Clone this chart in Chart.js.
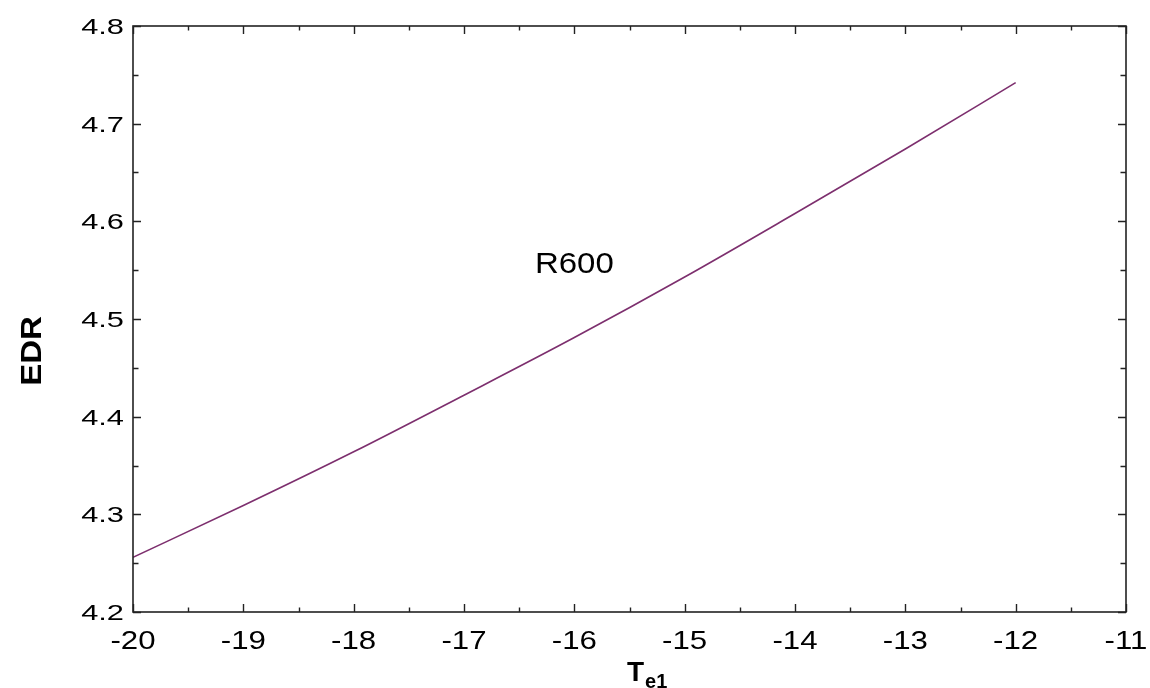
<!DOCTYPE html>
<html>
<head>
<meta charset="utf-8">
<title>EDR vs Te1 — R600</title>
<script src="https://cdn.jsdelivr.net/npm/chart.js@4.4.1/dist/chart.umd.min.js"></script>
<style>
  html, body { margin: 0; padding: 0; background: #ffffff; }
  #wrap { width: 1150px; height: 688px; }
</style>
</head>
<body>
<div id="wrap"><canvas id="c" width="1150" height="688"></canvas></div>
<script>
// Evaporator temperature T_e1 (°C) and the resulting EDR for R600
const temps = [-20, -19, -18, -17, -16, -15, -14, -13, -12];
const edr   = [4.256, 4.309, 4.364, 4.422, 4.481, 4.543, 4.608, 4.674, 4.742];

// Axis ranges and tick steps
const xRange = [-20, -11];
const yRange = [4.2, 4.8];
const xMajor = 1, xMinor = 0.5;
const yMajor = 0.1, yMinor = 0.05;

// Curve label
const seriesName = 'R600';
const labelAt = { x: -16, y: 4.556 };

const FONT = '"Liberation Sans", Arial, Helvetica, sans-serif';
const LINE_COLOR = '#7d2f6e';

function stepValues(lo, hi, step) {
  const out = [];
  const n = Math.round((hi - lo) / step);
  for (let i = 0; i <= n; i++) out.push(+(lo + i * step).toFixed(6));
  return out;
}

// Text drawn with a slight horizontal stretch (wide sans look)
function wideText(ctx, text, x, y, font, sx, align) {
  ctx.save();
  ctx.font = font;
  ctx.translate(x, y);
  ctx.scale(sx, 1);
  ctx.textAlign = align;
  ctx.fillText(text, 0, 0);
  ctx.restore();
}

// Frame, inward ticks on all four sides, tick labels, curve label and axis titles
const framePlugin = {
  id: 'frame',
  afterDatasetsDraw(chart) {
    const { ctx, chartArea: a, scales } = chart;
    const xs = scales.x, ys = scales.y;
    ctx.save();
    ctx.strokeStyle = '#222222';
    ctx.lineWidth = 1.6;
    ctx.strokeRect(a.left, a.top, a.right - a.left, a.bottom - a.top);

    ctx.lineWidth = 1.4;
    ctx.beginPath();
    stepValues(xRange[0], xRange[1], xMinor).forEach(v => {
      const isMajor = Math.abs(v / xMajor - Math.round(v / xMajor)) < 1e-6;
      const len = isMajor ? 8 : 4.5;
      const px = Math.round(xs.getPixelForValue(v)) + 0.5;
      ctx.moveTo(px, a.bottom); ctx.lineTo(px, a.bottom - len);
      ctx.moveTo(px, a.top); ctx.lineTo(px, a.top + len);
    });
    stepValues(yRange[0], yRange[1], yMinor).forEach(v => {
      const r = (v - yRange[0]) / yMajor;
      const isMajor = Math.abs(r - Math.round(r)) < 1e-6;
      const len = isMajor ? 8 : 5.5;
      const py = Math.round(ys.getPixelForValue(v)) + 0.5;
      ctx.moveTo(a.left, py); ctx.lineTo(a.left + len, py);
      ctx.moveTo(a.right, py); ctx.lineTo(a.right - len, py);
    });
    ctx.stroke();

    ctx.fillStyle = '#000000';
    ctx.textBaseline = 'alphabetic';

    // tick labels from the scales' own ticks
    xs.ticks.forEach(t => {
      wideText(ctx, String(t.value), xs.getPixelForValue(t.value), 649,
               '26px ' + FONT, 1.2, 'center');
    });
    ys.ticks.forEach(t => {
      wideText(ctx, t.value.toFixed(1), a.left - 9, ys.getPixelForValue(t.value) + 8,
               '22px ' + FONT, 1.4, 'right');
    });

    // series label
    ctx.save();
    ctx.textBaseline = 'middle';
    wideText(ctx, seriesName, xs.getPixelForValue(labelAt.x), ys.getPixelForValue(labelAt.y),
             '30px ' + FONT, 1.1, 'center');
    ctx.restore();

    // x title: T with subscript e1
    ctx.textAlign = 'left';
    ctx.font = 'bold 28px ' + FONT;
    const tW = ctx.measureText('T').width;
    const x0 = 627;
    ctx.fillText('T', x0, 681);
    ctx.font = 'bold 20px ' + FONT;
    ctx.fillText('e1', x0 + tW + 1, 688);

    // y title
    ctx.save();
    ctx.translate(41, 351);
    ctx.rotate(-Math.PI / 2);
    ctx.textAlign = 'center';
    ctx.font = 'bold 30px ' + FONT;
    ctx.scale(1.1, 1);
    ctx.fillText('EDR', 0, 0);
    ctx.restore();

    ctx.restore();
  }
};

new Chart(document.getElementById('c'), {
  type: 'scatter',
  data: {
    datasets: [{
      label: seriesName,
      data: temps.map((t, i) => ({ x: t, y: edr[i] })),
      showLine: true,
      borderColor: LINE_COLOR,
      borderWidth: 1.6,
      pointRadius: 0,
      cubicInterpolationMode: 'monotone',
      fill: false
    }]
  },
  options: {
    responsive: false,
    animation: false,
    devicePixelRatio: 1,
    layout: { padding: { top: 26, right: 24, left: 0, bottom: 0 } },
    plugins: { legend: { display: false }, tooltip: { enabled: false } },
    scales: {
      x: {
        type: 'linear',
        min: xRange[0], max: xRange[1],
        grid: { display: false, drawTicks: false },
        border: { display: false },
        ticks: { stepSize: xMajor, display: false },
        afterFit: s => { s.height = 76; s.paddingLeft = 0; s.paddingRight = 0; }
      },
      y: {
        type: 'linear',
        min: yRange[0], max: yRange[1],
        grid: { display: false, drawTicks: false },
        border: { display: false },
        ticks: { stepSize: yMajor, display: false },
        afterFit: s => { s.width = 133; s.paddingTop = 0; s.paddingBottom = 0; }
      }
    }
  },
  plugins: [framePlugin]
});
</script>
</body>
</html>
